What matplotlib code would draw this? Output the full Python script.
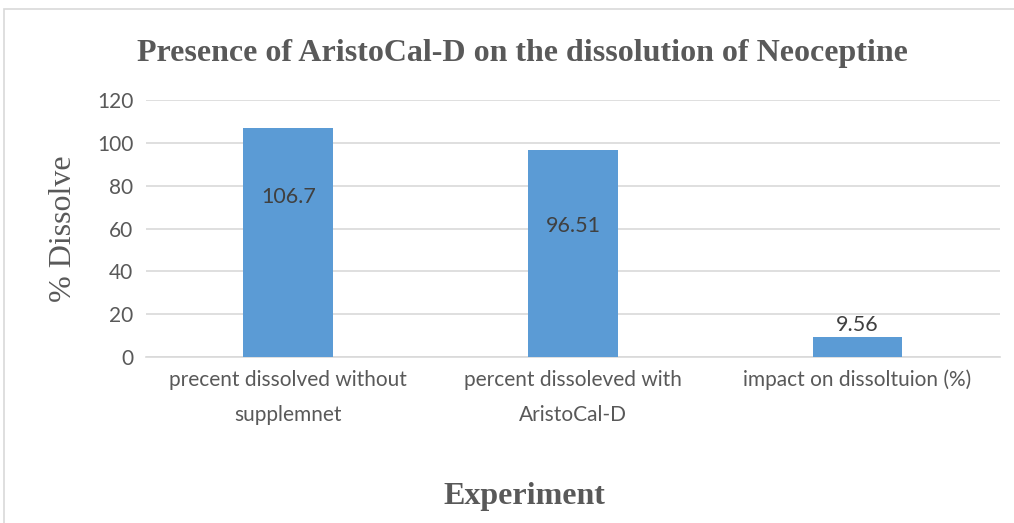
import matplotlib.pyplot as plt
from matplotlib.patches import Rectangle

categorias = ["precent dissolved without\nsupplemnet", "percent dissoleved with\nAristoCal-D", "impact on dissoltuion (%)"]
valores = [106.7, 96.51, 9.56]
etiquetas = ["106.7", "96.51", "9.56"]
pos_etiqueta = [74.5, 61, 15]
yticks = [0, 20, 40, 60, 80, 100, 120]

gris = '#595959'
fig = plt.figure(figsize=(10.14, 5.23), dpi=100)
fig.patches.append(Rectangle((0.004, -0.05), 1.2, 1.033, transform=fig.transFigure,
                             fill=False, edgecolor='#d9d9d9', linewidth=1.2))
ax = fig.add_axes([0.144, 0.317, 0.842, 0.492])

x = range(len(valores))
ax.bar(x, valores, width=0.315, color='#5b9bd5', zorder=3)
for i in x:
    ax.text(i, pos_etiqueta[i], etiquetas[i], ha='center', va='center',
            fontsize=15.5, color='#404040', family='Lato', zorder=4)

ax.set_xlim(-0.5, 2.5)
ax.set_ylim(0, 120)
ax.set_yticks(yticks)
ax.grid(axis='y', color='#d9d9d9', linewidth=1.2, zorder=0)
for s in ['top', 'right', 'left']:
    ax.spines[s].set_visible(False)
ax.spines['bottom'].set_color('#d9d9d9')
ax.spines['bottom'].set_linewidth(1.2)
ax.tick_params(length=0, labelsize=15, colors=gris, pad=9)
ax.set_xticks(list(x))
ax.set_xticklabels(categorias, family='Lato', linespacing=1.95)
for t in ax.get_yticklabels():
    t.set_family('Lato')

ax.set_ylabel('% Dissolve', family='Liberation Serif', fontsize=23, color=gris, labelpad=14)
fig.text(0.515, 0.897, 'Presence of AristoCal-D on the dissolution of Neoceptine',
         ha='center', va='center', family='Liberation Serif', fontweight='bold',
         fontsize=23, color=gris)
fig.text(0.517, 0.05, 'Experiment', ha='center', va='center', family='Liberation Serif',
         fontweight='bold', fontsize=23, color=gris)

fig.savefig('out.png', dpi=100)
